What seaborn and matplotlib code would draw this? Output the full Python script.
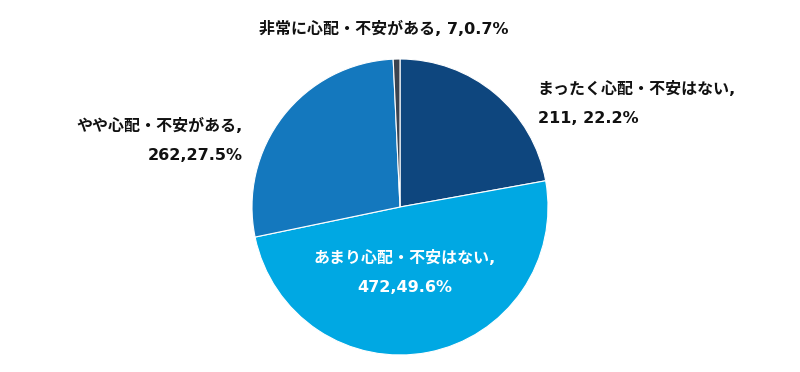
import matplotlib.pyplot as plt
import seaborn as sns

categories = ["まったく心配・不安はない", "あまり心配・不安はない", "やや心配・不安がある", "非常に心配・不安がある"]
counts = [211, 472, 262, 7]
percents = ["22.2%", "49.6%", "27.5%", "0.7%"]
colors = ["#0E467E", "#00A8E3", "#1478BE", "#3A4350"]

sns.set_theme(style="white")
plt.rcParams["font.family"] = ["DejaVu Sans", "Noto Sans CJK JP"]

fig = plt.figure(figsize=(8, 3.72), dpi=100)
ax = fig.add_axes([252 / 800, 17 / 372, 296 / 800, 296 / 372])

ax.pie(
    counts,
    colors=colors,
    startangle=90,
    counterclock=False,
    radius=1.0,
    wedgeprops=dict(edgecolor="white", linewidth=0.8),
)
ax.set_xlim(-1, 1)
ax.set_ylim(-1, 1)
ax.set_aspect("equal")

# labels: (x, y, ha, color, text)
labels = [
    (0.93, 0.70, "left", "#111111", f"{categories[0]},\n{counts[0]}, {percents[0]}"),
    (0.03, -0.44, "center", "white", f"{categories[1]},\n{counts[1]},{percents[1]}"),
    (-1.06, 0.45, "right", "#111111", f"{categories[2]},\n{counts[2]},{percents[2]}"),
    (-0.11, 1.20, "center", "#111111", f"{categories[3]}, {counts[3]},{percents[3]}"),
]
for x, y, ha, c, txt in labels:
    ax.text(x, y, txt, ha=ha, va="center", color=c, fontsize=11.5,
            fontweight="bold", linespacing=2.15, multialignment=ha,
            clip_on=False)

fig.savefig("out.png", dpi=100)
